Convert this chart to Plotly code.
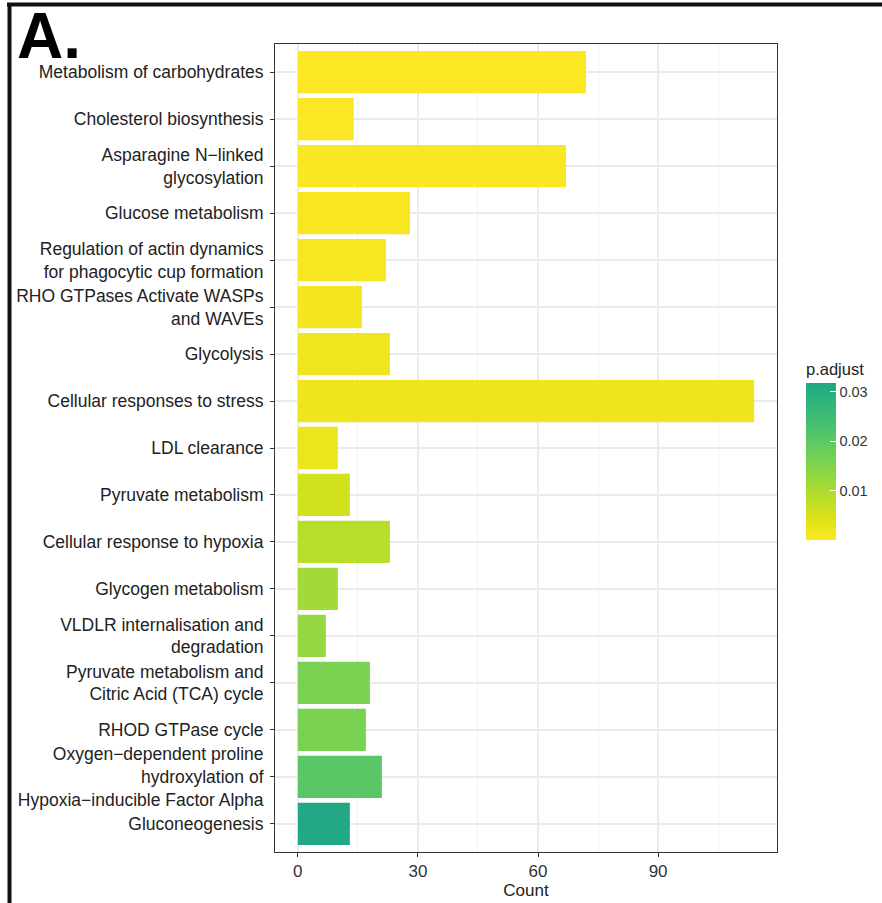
import plotly.graph_objects as go

# Enriched pathways, listed top to bottom
pathways = [
    "Metabolism of carbohydrates",
    "Cholesterol biosynthesis",
    "Asparagine N−linked<br>glycosylation",
    "Glucose metabolism",
    "Regulation of actin dynamics<br>for phagocytic cup formation",
    "RHO GTPases Activate WASPs<br>and WAVEs",
    "Glycolysis",
    "Cellular responses to stress",
    "LDL clearance",
    "Pyruvate metabolism",
    "Cellular response to hypoxia",
    "Glycogen metabolism",
    "VLDLR internalisation and<br>degradation",
    "Pyruvate metabolism and<br>Citric Acid (TCA) cycle",
    "RHOD GTPase cycle",
    "Oxygen−dependent proline<br>hydroxylation of<br>Hypoxia−inducible Factor Alpha",
    "Gluconeogenesis",
]
counts = [72, 14, 67, 28, 22, 16, 23, 114, 10, 13, 23, 10, 7, 18, 17, 21, 13]
p_adjust = [0.00002, 0.0002, 0.0004, 0.0006, 0.0008, 0.0012, 0.0016, 0.0020,
            0.0024, 0.0056, 0.0087, 0.0111, 0.0127, 0.0159, 0.0161, 0.0207, 0.0318]
count_ticks = [0, 30, 60, 90]
padj_ticks = [0.01, 0.02, 0.03]

# upper part of viridis, yellow for the smallest adjusted p-values
viridis_upper = ["#FDE725", "#DFE318", "#BDDF26", "#9BD93C", "#7AD151",
                 "#5EC962", "#44BF70", "#2FB47C", "#22A884"]
colorscale = [[i / (len(viridis_upper) - 1), c] for i, c in enumerate(viridis_upper)]

FONT = "Liberation Sans, Arial, sans-serif"

# panel placement in pixels
W, H = 882, 903
PL, PR, PT, PB = 275, 777, 44, 852
pw, ph = PR - PL, PB - PT


def px_x(x):
    return (x - PL) / pw


def px_y(y):
    return (PB - y) / ph


fig = go.Figure(
    go.Bar(
        x=counts,
        y=pathways,
        orientation="h",
        width=0.9,
        marker=dict(
            color=p_adjust,
            colorscale=colorscale,
            cmin=min(p_adjust),
            cmax=max(p_adjust),
            line=dict(width=0),
            colorbar=dict(
                title=dict(text="p.adjust", side="top",
                           font=dict(family=FONT, size=16.5, color="#222")),
                tickvals=padj_ticks,
                ticktext=[f"{v:.2f}" for v in padj_ticks],
                ticks="inside",
                ticklen=6,
                tickcolor="white",
                tickwidth=1,
                tickfont=dict(family=FONT, size=14.5, color="#333"),
                thickness=30,
                lenmode="pixels",
                len=180,
                x=px_x(806),
                xanchor="left",
                y=px_y(450),
                yanchor="middle",
                xpad=0,
                ypad=0,
                outlinewidth=0,
            ),
        ),
        showlegend=False,
    )
)

fig.update_layout(
    width=W,
    height=H,
    margin=dict(l=PL, r=W - PR, t=PT, b=H - PB, autoexpand=False),
    paper_bgcolor="white",
    plot_bgcolor="white",
    font=dict(family=FONT, color="#222"),
    bargap=0.1,
)

fig.update_xaxes(
    range=[-5.7, 119.7],
    tickvals=count_ticks,
    ticks="outside",
    ticklen=4,
    tickcolor="#333",
    tickfont=dict(family=FONT, size=17, color="#333"),
    showgrid=True,
    gridcolor="#EBEBEB",
    gridwidth=1.5,
    minor=dict(dtick=15, tick0=15, showgrid=True, gridcolor="#F2F2F2", gridwidth=1, ticks=""),
    zeroline=False,
    showline=True,
    mirror=True,
    linecolor="#333",
    linewidth=1,
    title=dict(text="Count", standoff=3, font=dict(family=FONT, size=17, color="#222")),
)

fig.update_yaxes(
    categoryorder="array",
    categoryarray=pathways,
    range=[len(pathways) - 0.4, -0.6],
    ticks="outside",
    ticklen=4,
    tickcolor="#333",
    ticklabelstandoff=3,
    tickfont=dict(family=FONT, size=17.5, color="#222"),
    showgrid=True,
    gridcolor="#EBEBEB",
    gridwidth=1.5,
    zeroline=False,
    showline=True,
    mirror=True,
    linecolor="#333",
    linewidth=1,
)

# panel letter
fig.add_annotation(
    text="<b>A.</b>", xref="paper", yref="paper",
    x=px_x(15), y=px_y(-2), xanchor="left", yanchor="top",
    showarrow=False, font=dict(family=FONT, size=64, color="#000"),
)

# figure frame along the top and left edges
fig.add_shape(type="line", xref="paper", yref="paper",
              x0=px_x(7), x1=px_x(W + 2), y0=px_y(4.5), y1=px_y(4.5),
              line=dict(color="#111", width=4), layer="above")
fig.add_shape(type="line", xref="paper", yref="paper",
              x0=px_x(9.5), x1=px_x(9.5), y0=px_y(3), y1=px_y(H + 2),
              line=dict(color="#111", width=4), layer="above")

fig.write_html("out.html")
